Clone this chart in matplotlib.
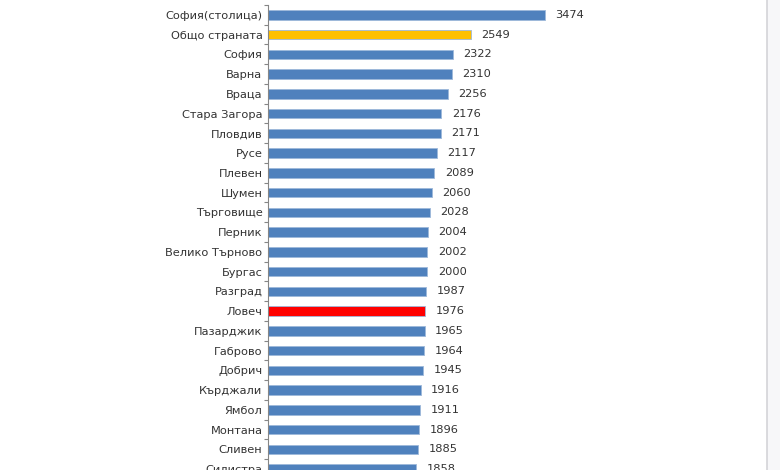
import matplotlib
matplotlib.use('Agg')
import matplotlib.pyplot as plt
import numpy as np
from matplotlib.patches import Rectangle

oblasti = ['София(столица)', 'Общо страната', 'София', 'Варна', 'Враца',
           'Стара Загора', 'Пловдив', 'Русе', 'Плевен', 'Шумен', 'Търговище',
           'Перник', 'Велико Търново', 'Бургас', 'Разград', 'Ловеч',
           'Пазарджик', 'Габрово', 'Добрич', 'Кърджали', 'Ямбол', 'Монтана',
           'Сливен', 'Силистра']
zaplati = [3474, 2549, 2322, 2310, 2256, 2176, 2171, 2117, 2089, 2060, 2028,
           2004, 2002, 2000, 1987, 1976, 1965, 1964, 1945, 1916, 1911, 1896,
           1885, 1858]

# цветове - страната в жълто, Ловеч в червено
boi = []
for ime in oblasti:
    if ime == 'Общо страната':
        boi.append('#FFC000')
    elif ime == 'Ловеч':
        boi.append('#FF0000')
    else:
        boi.append('#4F81BD')

fig = plt.figure(figsize=(7.8, 4.7), dpi=100)
ax = fig.add_axes([268 / 780, 0, 478 / 780, 1 - 5 / 470])

y = np.arange(len(oblasti))
ax.barh(y, zaplati, height=0.48, color=boi, edgecolor='#9DB8DA', linewidth=0.6)

for i, v in enumerate(zaplati):
    ax.text(v + 130, i, str(v), va='center', ha='left', fontsize=8.2, color='#333333')

ax.set_yticks(y)
ax.set_yticklabels(oblasti, fontsize=8.2, color='#333333')
ax.tick_params(axis='y', which='major', length=0, pad=4)
ax.set_yticks(np.arange(-0.5, len(oblasti) + 0.5, 1), minor=True)
ax.tick_params(axis='y', which='minor', length=3, color='#868686', width=0.8)
ax.set_xticks([])

# лимитите след тиковете, иначе set_yticks ги разширява
ax.set_xlim(0, 6000)
ax.set_ylim(23.05, -0.5)

for s in ['top', 'right', 'bottom']:
    ax.spines[s].set_visible(False)
ax.spines['left'].set_color('#868686')
ax.spines['left'].set_linewidth(0.8)

# сивата лента отдясно (от скрийншота)
fig.patches.append(Rectangle((767 / 780, 0), 13 / 780, 1, transform=fig.transFigure,
                             facecolor='#F7F7F9', edgecolor='none'))
fig.lines.append(plt.Line2D([767 / 780, 767 / 780], [0, 1], transform=fig.transFigure,
                            color='#D4D4D8', linewidth=1.2))

fig.savefig('out.png', dpi=100)
